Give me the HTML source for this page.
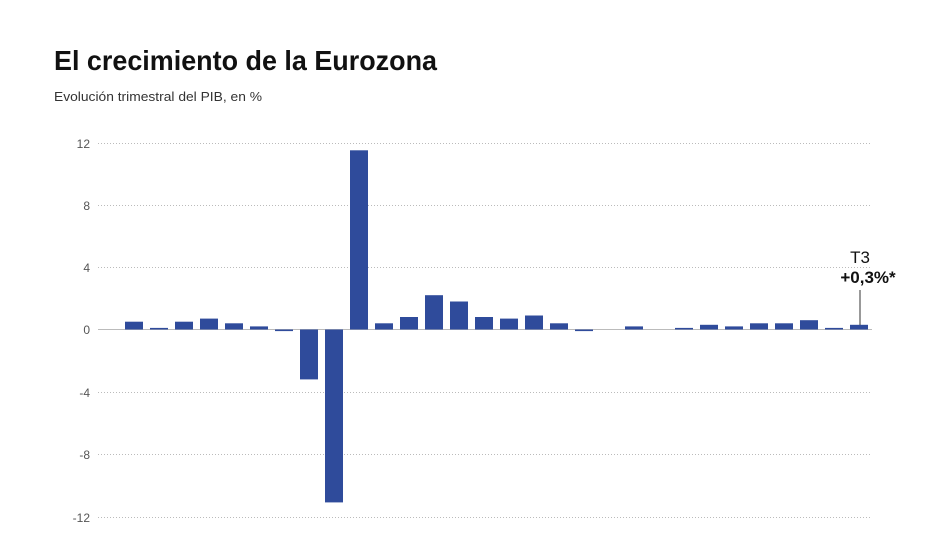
<!DOCTYPE html>
<html><head><meta charset="utf-8"><style>body{margin:0;background:#fff}svg{display:block}</style></head>
<body>
<svg width="950" height="533" viewBox="0 0 950 533" xmlns="http://www.w3.org/2000/svg" font-family="Liberation Sans, sans-serif">
<rect width="950" height="533" fill="#fff"/>
<text x="54" y="70" font-size="28" font-weight="bold" fill="#111" textLength="383" lengthAdjust="spacingAndGlyphs">El crecimiento de la Eurozona</text>
<text x="54" y="101" font-size="13" fill="#333" textLength="208" lengthAdjust="spacingAndGlyphs">Evolución trimestral del PIB, en %</text>
<g stroke="#bbb" stroke-width="1" stroke-dasharray="1,2">
<line x1="98" x2="872" y1="143.5" y2="143.5"/>
<line x1="98" x2="872" y1="205.5" y2="205.5"/>
<line x1="98" x2="872" y1="267.5" y2="267.5"/>
<line x1="98" x2="872" y1="392.5" y2="392.5"/>
<line x1="98" x2="872" y1="454.5" y2="454.5"/>
<line x1="98" x2="872" y1="517.5" y2="517.5"/>
</g>
<line x1="98" x2="872" y1="329.5" y2="329.5" stroke="#bbb" stroke-width="1"/>
<g font-size="12" fill="#555" text-anchor="end">
<text x="90" y="148">12</text><text x="90" y="210">8</text><text x="90" y="272">4</text>
<text x="90" y="334">0</text><text x="90" y="397">-4</text><text x="90" y="459">-8</text><text x="90" y="522">-12</text>
</g>
<g fill="#2f4b9b">
<rect x="125" y="321.7" width="18" height="7.8"/>
<rect x="150" y="327.9" width="18" height="1.6"/>
<rect x="175" y="321.7" width="18" height="7.8"/>
<rect x="200" y="318.6" width="18" height="10.9"/>
<rect x="225" y="323.3" width="18" height="6.2"/>
<rect x="250" y="326.4" width="18" height="3.1"/>
<rect x="275" y="329.5" width="18" height="1.6"/>
<rect x="300" y="329.5" width="18" height="49.9"/>
<rect x="325" y="329.5" width="18" height="172.9"/>
<rect x="350" y="150.3" width="18" height="179.2"/>
<rect x="375" y="323.3" width="18" height="6.2"/>
<rect x="400" y="317" width="18" height="12.5"/>
<rect x="425" y="295.2" width="18" height="34.3"/>
<rect x="450" y="301.5" width="18" height="28"/>
<rect x="475" y="317" width="18" height="12.5"/>
<rect x="500" y="318.6" width="18" height="10.9"/>
<rect x="525" y="315.5" width="18" height="14"/>
<rect x="550" y="323.3" width="18" height="6.2"/>
<rect x="575" y="329.5" width="18" height="1.6"/>
<rect x="625" y="326.4" width="18" height="3.1"/>
<rect x="675" y="327.9" width="18" height="1.6"/>
<rect x="700" y="324.8" width="18" height="4.7"/>
<rect x="725" y="326.4" width="18" height="3.1"/>
<rect x="750" y="323.3" width="18" height="6.2"/>
<rect x="775" y="323.3" width="18" height="6.2"/>
<rect x="800" y="320.2" width="18" height="9.3"/>
<rect x="825" y="327.9" width="18" height="1.6"/>
<rect x="850" y="324.8" width="18" height="4.7"/>
</g>
<line x1="860" x2="860" y1="290" y2="325" stroke="#333" stroke-width="1"/>
<text x="860" y="263" font-size="17" text-anchor="middle" fill="#111">T3</text>
<text x="868" y="283" font-size="17" font-weight="bold" text-anchor="middle" fill="#111">+0,3%*</text>
</svg>
</body></html>
